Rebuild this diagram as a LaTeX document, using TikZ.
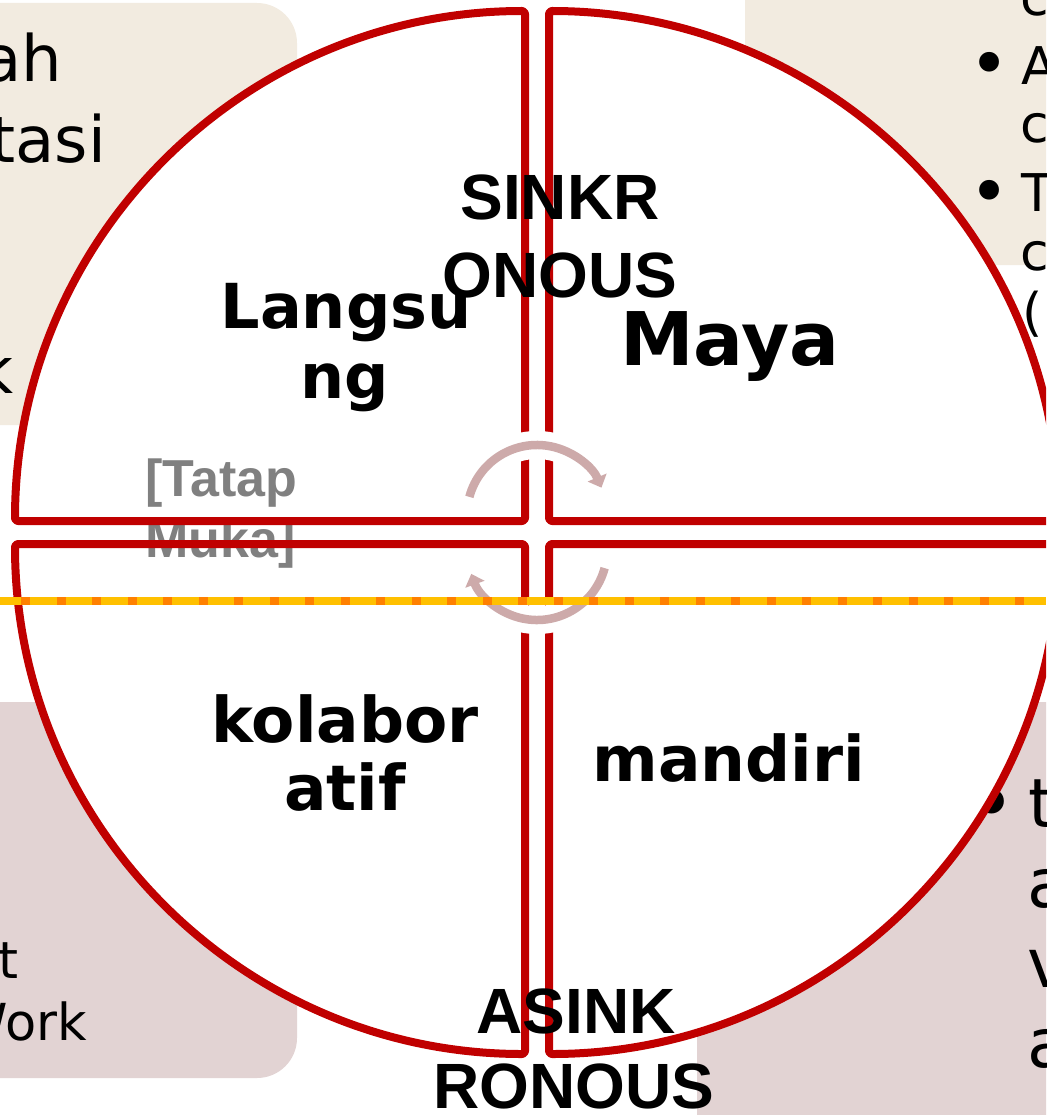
\documentclass[tikz,border=0pt]{standalone}
\usepackage{fontspec}
\setmainfont{DejaVu Sans}
\newfontfamily\arialf{Liberation Sans}
\usetikzlibrary{arrows.meta}
\definecolor{sred}{HTML}{C00000}
\definecolor{beige}{HTML}{F2EBE0}
\definecolor{mauve}{HTML}{E2D3D3}
\definecolor{cyc}{HTML}{CDAAAA}
\definecolor{dyel}{HTML}{FFC000}
\definecolor{dora}{HTML}{FF8000}
\definecolor{lgray}{HTML}{808080}
\begin{document}
\begin{tikzpicture}[x=1pt,y=-1pt,
  sectorline/.style={draw=sred,line width=8pt,rounded corners=3pt,line join=round},
  sectorfill/.style={fill=white,rounded corners=3pt},
  verdb/.style={font=\bfseries\fontsize{#1}{#1}\selectfont,anchor=base,inner sep=0pt},
  arib/.style={font=\arialf\bfseries\fontsize{#1}{#1}\selectfont,anchor=base,inner sep=0pt},
  boxtxt/.style={font=\fontsize{#1}{#1}\selectfont,inner sep=0pt},
  cycarrow/.style={draw=cyc,line width=8.5pt,-{Triangle[length=11pt,width=20pt]}},
  halo/.style={draw=white,line width=28pt}
]
\useasboundingbox (0,0) rectangle (1046,1115);
\clip (0,0) rectangle (1046,1115);

% background boxes
\fill[beige,rounded corners=40pt] (-80,3) rectangle (297,425);
\fill[beige,rounded corners=40pt] (745,-80) rectangle (1120,265);
\fill[mauve,rounded corners=40pt] (-80,702) rectangle (297,1078);
\fill[mauve,rounded corners=40pt] (697,702) rectangle (1120,1200);

% box texts
\node[boxtxt=64,anchor=base east] (t1) at (62,82) {ah};
\node[boxtxt=64,anchor=base east] (t2) at (106,163) {tasi};
\node[boxtxt=64,anchor=base east] (t3) at (14,393) {k};

\node[boxtxt=52,anchor=base west] (r0) at (1020,16) {c};
\node[boxtxt=68,anchor=base] (rb1) at (990,88) {•};
\node[boxtxt=52,anchor=base west] (r1) at (1021,85) {A};
\node[boxtxt=52,anchor=base west] (r2) at (1020,143) {c};
\node[boxtxt=68,anchor=base] (rb2) at (990,215) {•};
\node[boxtxt=52,anchor=base west] (r3) at (1021,212) {T};
\node[boxtxt=52,anchor=base west] (r4) at (1020,270) {c};
\node[boxtxt=52,anchor=base west] (r5) at (1022,330) {(};

\node[boxtxt=51,anchor=base east] (b1) at (19,978) {t};
\node[boxtxt=51,anchor=base east] (b2) at (87,1040) {Work};

\node[boxtxt=86,anchor=base] (q0) at (992,833) {•};
\node[boxtxt=68,anchor=base west] (q1) at (1028,827) {t};
\node[boxtxt=68,anchor=base west] (q2) at (1027,907) {a};
\node[boxtxt=68,anchor=base west] (q3) at (1027,987) {v};
\node[boxtxt=68,anchor=base west] (q4) at (1027,1067) {a};

% sector fills
\path[sectorfill] (525,521) -- (15,521) arc[start angle=180,end angle=270,radius=510] -- cycle;
\path[sectorfill] (549,521) -- (549,11) arc[start angle=270,end angle=360,radius=510] -- cycle;
\path[sectorfill] (525,544) -- (15,544) arc[start angle=180,end angle=90,radius=510] -- cycle;
\path[sectorfill] (549,544) -- (1059,544) arc[start angle=0,end angle=90,radius=510] -- cycle;

% gray label
\node[arib=52,anchor=base west,text=lgray] (tm1) at (145,496) {[Tatap};
\node[arib=52,anchor=base west,text=lgray] (tm2) at (145,557) {Muka]};

% sector outlines
\draw[sectorline] (525,521) -- (15,521) arc[start angle=180,end angle=270,radius=510] -- cycle;
\draw[sectorline] (549,521) -- (549,11) arc[start angle=270,end angle=360,radius=510] -- cycle;
\draw[sectorline] (525,544) -- (15,544) arc[start angle=180,end angle=90,radius=510] -- cycle;
\draw[sectorline] (549,544) -- (1059,544) arc[start angle=0,end angle=90,radius=510] -- cycle;

% circular arrows
\coordinate (ca) at (537,515);
\coordinate (cb) at (537,550);
\draw[halo] (ca) ++(195:70) arc[start angle=195,end angle=335,radius=70];
\draw[halo] (cb) ++(15:70) arc[start angle=15,end angle=160,radius=70];
\draw[cycarrow] (ca) ++(195:70) arc[start angle=195,end angle=337,radius=70];
\draw[cycarrow] (cb) ++(15:70) arc[start angle=15,end angle=160,radius=70];

% dashed line
\coordinate (dl) at (0,601);
\coordinate (dr) at (1046,601);
\draw[dora,line width=8pt] (dl) -- (dr);
\draw[dyel,line width=8pt,dash pattern=on 26.5pt off 9pt,dash phase=5.5pt] (dl) -- (dr);

% main labels
\node[arib=64] (s1) at (560,220) {SINKR};
\node[arib=64] (s2) at (560,297) {ONOUS};
\node[verdb=62] (l1) at (346,328) {Langsu};
\node[verdb=62] (l2) at (345,398) {ng};
\node[verdb=74] (m1) at (730,365) {Maya};
\node[verdb=63] (k1) at (345,742) {kolabor};
\node[verdb=63] (k2) at (345,810) {atif};
\node[verdb=63] (md) at (729,781) {mandiri};
\node[arib=64] (a1) at (576,1033) {ASINK};
\node[arib=64] (a2) at (574,1108) {RONOUS};
\end{tikzpicture}
\end{document}
